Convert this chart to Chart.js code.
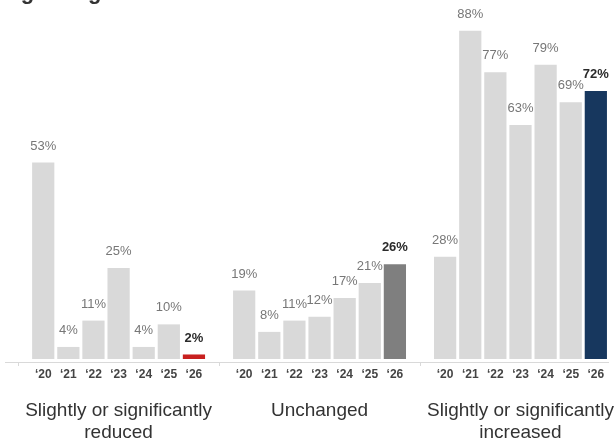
<!DOCTYPE html>
<html>
<head>
<meta charset="utf-8">
<script src="https://cdn.jsdelivr.net/npm/chart.js@4"></script>
<style>
  html, body { margin: 0; padding: 0; overflow: hidden; background: #fff; }
  #wrap { position: relative; width: 614px; height: 443px; }
  #title {
    position: absolute; left: 0; top: -19px; white-space: nowrap;
    font: bold 22px/22px "Liberation Sans", Arial, sans-serif; color: #333;
  }
</style>
</head>
<body>
<div id="wrap">
  <canvas id="chart"></canvas>
  <div id="title">regarding rates over</div>
</div>
<script>
// values
const yearLabels = ['\u201820', '\u201821', '\u201822', '\u201823', '\u201824', '\u201825', '\u201826'];
const groupNames = [['Slightly or significantly', 'reduced'], 'Unchanged', ['Slightly or significantly', 'increased']];
const reduced = [53, 4, 11, 25, 4, 10, 2];
const unchanged = [19, 8, 11, 12, 17, 21, 26];
const increased = [28, 88, 77, 63, 79, 69, 72];
const lastColors = ['#c8201f', '#7f7f7f', '#17375e'];

const series = [reduced, unchanged, increased];

// one empty slot in front of every group
let labels = [];
let values = [];
let groupTicks = [];
let barColors = [];
series.forEach((vals, g) => {
    labels.push('');
    values.push(null);
    groupTicks.push('');
    barColors.push('rgba(0,0,0,0)');
    vals.forEach((v, i) => {
        labels.push(yearLabels[i]);
        values.push(v);
        groupTicks.push(i === 3 ? groupNames[g] : '');
        barColors.push(i === vals.length - 1 ? lastColors[g] : '#d9d9d9');
    });
});

const valueLabels = {
    id: 'valueLabels',
    afterDatasetsDraw(chart) {
        const ctx = chart.ctx;
        const meta = chart.getDatasetMeta(0);
        ctx.save();
        ctx.textAlign = 'center';
        ctx.textBaseline = 'middle';
        meta.data.forEach((bar, i) => {
            const v = values[i];
            if (v === null) return;
            const last = labels[i] === yearLabels[yearLabels.length - 1];
            ctx.font = (last ? 'bold ' : '') + '13px "Liberation Sans", Arial, sans-serif';
            ctx.fillStyle = last ? '#2b2b2b' : '#777777';
            ctx.fillText(v + '%', bar.x, bar.y - 16.5);
        });
        ctx.restore();
    }
};

const ctx = document.getElementById('chart');

new Chart(ctx, {
    type: 'bar',
    data: {
        labels: labels,
        datasets: [{
            data: values,
            backgroundColor: barColors,
            barPercentage: 0.885,
            categoryPercentage: 1,
            clip: { left: false, right: false, top: false, bottom: -3 }
        }]
    },
    options: {
        responsive: true,
        maintainAspectRatio: false,
        animation: false,
        layout: { padding: { left: 3.4, right: 5.6, top: 0, bottom: 0 } },
        plugins: { legend: { display: false }, tooltip: { enabled: false } },
        scales: {
            y: { display: false, min: 0, max: 96.2 },
            x: {
                weight: 1,
                offset: true,
                border: { display: true, color: '#d9d9d9', width: 1 },
                grid: {
                    offset: false,
                    drawOnChartArea: false,
                    drawTicks: true,
                    tickLength: 4,
                    color: (c) => (labels[c.index] === '' ? '#d9d9d9' : 'rgba(0,0,0,0)')
                },
                ticks: {
                    autoSkip: false,
                    maxRotation: 0,
                    minRotation: 0,
                    padding: 1,
                    color: '#444',
                    font: { family: '"Liberation Sans", Arial, sans-serif', size: 12, weight: 'bold' }
                },
                afterFit: (scale) => { scale.height = 20; }
            },
            x2: {
                type: 'category',
                position: 'bottom',
                weight: 2,
                labels: groupTicks,
                offset: true,
                border: { display: false },
                grid: { display: false, drawTicks: false },
                ticks: {
                    autoSkip: false,
                    maxRotation: 0,
                    minRotation: 0,
                    padding: 18,
                    color: '#333',
                    font: { family: '"Liberation Sans", Arial, sans-serif', size: 19, lineHeight: 22 / 19 }
                },
                afterFit: (scale) => { scale.height = 61; }
            }
        }
    },
    plugins: [valueLabels]
});
</script>
</body>
</html>
